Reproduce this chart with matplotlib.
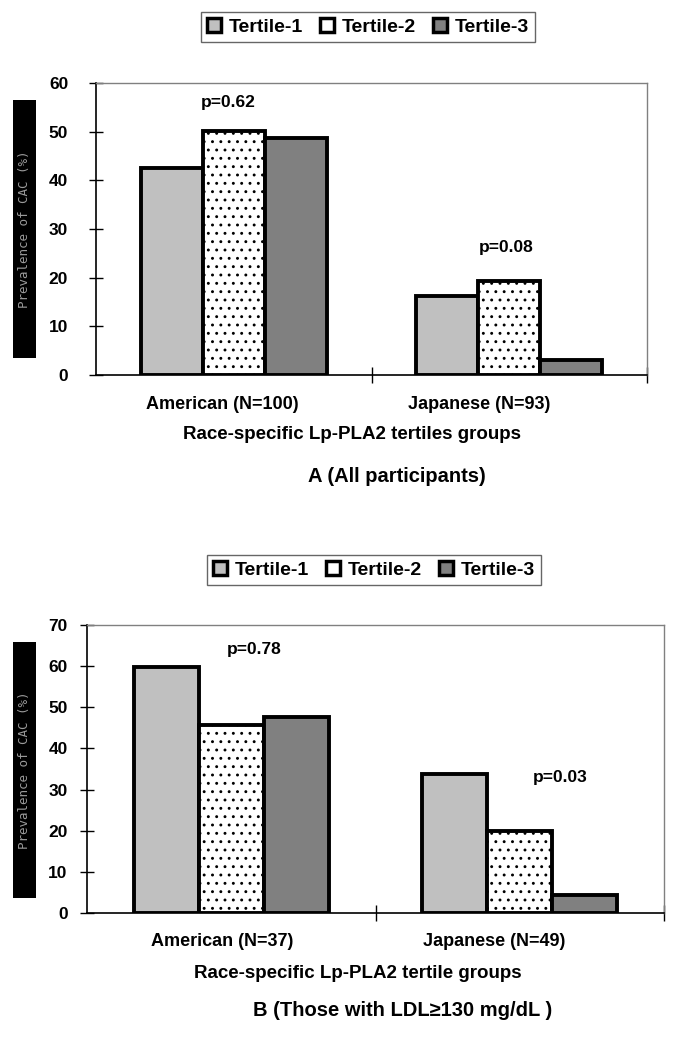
import numpy as np
import matplotlib.pyplot as plt
from matplotlib.patches import Patch, Rectangle

plt.rcParams['font.family'] = ['Liberation Sans', 'DejaVu Sans']
plt.rcParams['font.weight'] = 'bold'
plt.rcParams['hatch.linewidth'] = 0.9

# datos
tertiles = ['Tertile-1', 'Tertile-2', 'Tertile-3']
grupos_a = ['American (N=100)', 'Japanese (N=93)']
grupos_b = ['American (N=37)', 'Japanese (N=49)']
valores_a = [[42.5, 50.2, 48.7], [16.2, 19.3, 3.1]]   # por grupo: T1, T2, T3
valores_b = [[59.8, 45.7, 47.7], [33.8, 20.0, 4.4]]
pvals_a = ['p=0.62', 'p=0.08']
pvals_b = ['p=0.78', 'p=0.03']
ylim_a, ylim_b = 60, 70
ylabel = 'Prevalence of CAC (%)'

colores = ['#c0c0c0', 'white', '#808080']
tramas = [None, '..', None]

fig = plt.figure(figsize=(6.75, 10.38), dpi=100)
W, H = 675, 1038


def px(x0, y0, x1, y1):
    # rectangulo en pixeles -> coords de figura
    return [x0 / W, 1 - y1 / H, (x1 - x0) / W, (y1 - y0) / H]


def panel(rect, valores, grupos, pvals, pval_pos, ymax, xlab, caption,
          leg_c, lab_off, box, xlab_y, cap_pos, pad):
    ax = fig.add_axes(rect)
    vals = np.array(valores)
    w = 0.225
    x = np.arange(len(grupos))
    for i in range(3):
        ax.bar(x + (i - 1) * w, vals[:, i], w, color=colores[i], hatch=tramas[i],
               edgecolor='black', linewidth=2.8, zorder=3)
    ax.set_xlim(-0.5, 1.5)
    ax.set_ylim(0, ymax)
    ax.set_yticks(np.arange(0, ymax + 1, 10))
    ax.tick_params(axis='y', direction='inout', length=10, width=1, labelsize=12.5, pad=pad)
    ax.set_xticks([0.5, 1.5])
    ax.set_xticklabels([])
    ax.tick_params(axis='x', direction='inout', length=12, width=1)
    for lab in ax.get_yticklabels():
        lab.set_fontweight('bold')
    for s in ['top', 'right']:
        ax.spines[s].set_color('#808080')
        ax.spines[s].set_linewidth(1.0)
    for s in ['left', 'bottom']:
        ax.spines[s].set_linewidth(1.2)
    for i, g in enumerate(grupos):
        ax.text(i + lab_off[i], -0.1, g, transform=ax.get_xaxis_transform(),
                ha='center', va='center', fontsize=13, fontweight='bold')
    for (px_, py_), t in zip(pval_pos, pvals):
        ax.text(px_, py_, t, ha='center', va='center', fontsize=12.5, fontweight='bold')
    fig.text(xlab[1] / W, 1 - xlab_y / H, xlab[0], ha='center', va='center',
             fontsize=13.5, fontweight='bold')
    fig.text(cap_pos[0] / W, 1 - cap_pos[1] / H, caption, ha='center', va='center',
             fontsize=14.5, fontweight='bold')
    handles = [Patch(facecolor=colores[i], edgecolor='black', linewidth=2.5)
               for i in range(3)]
    leg = fig.legend(handles, tertiles, loc='center',
                     bbox_to_anchor=(leg_c[0] / W, 1 - leg_c[1] / H),
                     ncol=3, frameon=True, fancybox=False,
                     edgecolor='#404040', handlelength=0.7, handleheight=0.7,
                     handletextpad=0.4, columnspacing=0.9, borderpad=0.32,
                     prop={'weight': 'bold', 'size': 14})
    leg.get_frame().set_linewidth(1.0)
    # etiqueta del eje y (caja negra)
    b = px(*box)
    fig.patches.append(Rectangle((b[0], b[1]), b[2], b[3], transform=fig.transFigure,
                                 facecolor='black', edgecolor='none'))
    fig.text(b[0] + b[2] / 2, b[1] + b[3] / 2, ylabel, rotation=90, ha='center',
             va='center', color='#9a9a9a', fontsize=9, fontweight='normal',
             family='DejaVu Sans Mono')
    return ax


panel(px(96, 83, 647, 375), valores_a, grupos_a, pvals_a, [(-0.02, 56), (0.99, 26.3)],
      ylim_a, ('Race-specific Lp-PLA2 tertiles groups', 352), 'A (All participants)',
      (368, 27), [-0.04, -0.11], (13, 100, 36, 358), 435, (397, 476), 15)

panel(px(87, 625, 664, 913), valores_b, grupos_b, pvals_b, [(0.08, 64), (1.14, 33)],
      ylim_b, ('Race-specific Lp-PLA2 tertile groups', 358), 'B (Those with LDL\u2265130 mg/dL )',
      (374, 570), [-0.03, -0.09], (13, 642, 36, 898), 973, (403, 1010), 9)

plt.savefig('out.png', dpi=100)
